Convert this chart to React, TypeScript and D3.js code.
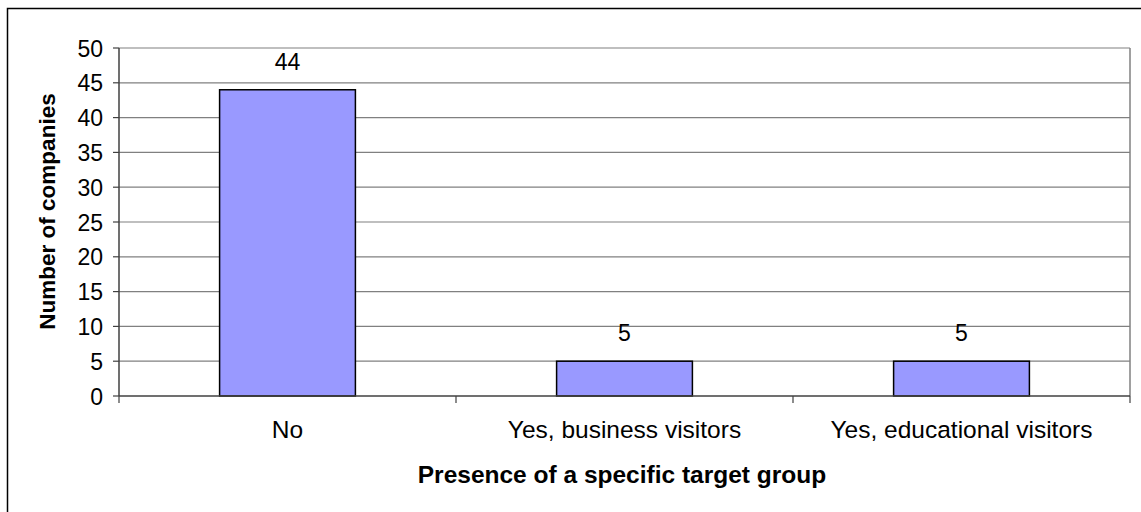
import React from "react";
import * as d3 from "d3";

const categories = ["No", "Yes, business visitors", "Yes, educational visitors"];
const values = [44, 5, 5];
const yTicks = [0, 5, 10, 15, 20, 25, 30, 35, 40, 45, 50];

const W = 1141;
const H = 512;
const left = 119;
const right = 1130;
const top = 48;
const bottom = 396;
const font = "Arial, 'Liberation Sans', sans-serif";

export default function App() {
  const x = d3.scaleBand<string>().domain(categories).range([left, right]).paddingInner(0).paddingOuter(0);
  const y = d3.scaleLinear().domain([0, 50]).range([bottom, top]);
  const bw = x.bandwidth() * 0.403;
  const boundaries = [left, ...categories.map((c) => (x(c) as number) + x.bandwidth())];
  return (
    <svg width={W} height={H} style={{ position: "absolute", left: 0, top: 0, background: "#fff" }}>
      <rect x={7.5} y={8.5} width={W + 10} height={H + 10} fill="#fff" stroke="#000" strokeWidth={1.5} />
      {yTicks.map((t) => (
        <g key={t}>
          {t > 0 && <line x1={left} x2={right} y1={y(t)} y2={y(t)} stroke="#808080" strokeWidth={1.2} />}
          <line x1={113} x2={left} y1={y(t)} y2={y(t)} stroke="#404040" strokeWidth={1.2} />
          <text x={103} y={y(t)} dy="0.37em" textAnchor="end" fontFamily={font} fontSize={23} fill="#000">
            {t}
          </text>
        </g>
      ))}
      <line x1={right} x2={right} y1={top} y2={bottom} stroke="#808080" strokeWidth={1.5} />
      {categories.map((c, i) => {
        const cx = (x(c) as number) + x.bandwidth() / 2;
        return (
          <g key={c}>
            <rect
              x={cx - bw / 2}
              y={y(values[i])}
              width={bw}
              height={bottom - y(values[i])}
              fill="#9999FF"
              stroke="#000"
              strokeWidth={1.5}
            />
            <text x={cx} y={y(values[i]) - 20} textAnchor="middle" fontFamily={font} fontSize={23} fill="#000">
              {values[i]}
            </text>
            <text x={cx} y={438} textAnchor="middle" fontFamily={font} fontSize={24.5} fill="#000">
              {c}
            </text>
          </g>
        );
      })}
      <line x1={left} x2={left} y1={top} y2={bottom} stroke="#404040" strokeWidth={1.5} />
      <line x1={left} x2={right} y1={bottom} y2={bottom} stroke="#404040" strokeWidth={1.5} />
      {boundaries.map((b, i) => (
        <line key={i} x1={b} x2={b} y1={bottom} y2={403} stroke="#404040" strokeWidth={1.2} />
      ))}
      <text x={622} y={483} textAnchor="middle" fontFamily={font} fontSize={24.5} fontWeight="bold" fill="#000">
        Presence of a specific target group
      </text>
      <text
        transform={`translate(55, 211.5) rotate(-90)`}
        textAnchor="middle"
        fontFamily={font}
        fontSize={22.5}
        fontWeight="bold"
        fill="#000"
      >
        Number of companies
      </text>
    </svg>
  );
}
